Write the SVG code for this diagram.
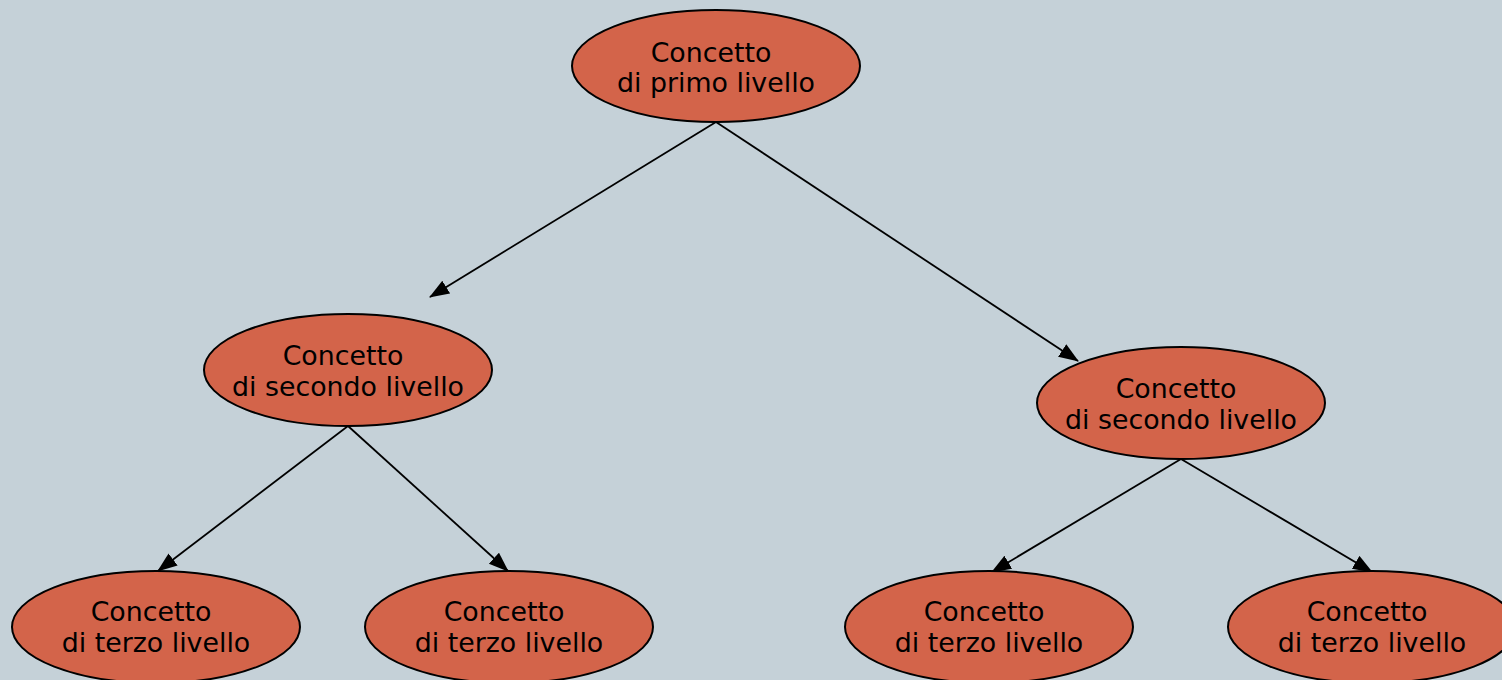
<svg xmlns="http://www.w3.org/2000/svg" width="1502" height="680" viewBox="0 0 1502 680">
<defs>
<style>
.node ellipse{fill:#D3644A;stroke:#000;stroke-width:2}
.node text{font-family:"DejaVu Sans",Verdana,sans-serif;font-size:26.8px;fill:#000;text-anchor:middle}
.edges line{stroke:#000;stroke-width:1.8;marker-end:url(#arr)}
</style>
<marker id="arr" markerUnits="userSpaceOnUse" markerWidth="20" markerHeight="16" refX="19" refY="7.5" orient="auto">
<path d="M0,0 L20,7.5 L0,15 z" fill="#000"/>
</marker>
</defs>
<rect width="1502" height="680" fill="#C5D1D8"/>
<g class="edges" id="connectors">
<line x1="716" y1="122" x2="430" y2="297"/>
<line x1="716" y1="122" x2="1078" y2="361"/>
<line x1="348" y1="426" x2="158" y2="571"/>
<line x1="348" y1="426" x2="508" y2="571"/>
<line x1="1181" y1="459" x2="992" y2="572"/>
<line x1="1181" y1="459" x2="1372" y2="572"/>
</g>
<g class="node" id="n1"><ellipse cx="716" cy="66" rx="144" ry="56"/><text x="711" y="62">Concetto</text><text x="716" y="92">di primo livello</text></g>
<g class="node" id="n2"><ellipse cx="348" cy="370" rx="144" ry="56"/><text x="343" y="365">Concetto</text><text x="348" y="396">di secondo livello</text></g>
<g class="node" id="n3"><ellipse cx="1181" cy="403" rx="144" ry="56"/><text x="1176" y="398">Concetto</text><text x="1181" y="429">di secondo livello</text></g>
<g class="node" id="n4"><ellipse cx="156" cy="627" rx="144" ry="56"/><text x="151" y="621">Concetto</text><text x="156" y="652">di terzo livello</text></g>
<g class="node" id="n5"><ellipse cx="509" cy="627" rx="144" ry="56"/><text x="504" y="621">Concetto</text><text x="509" y="652">di terzo livello</text></g>
<g class="node" id="n6"><ellipse cx="989" cy="627" rx="144" ry="56"/><text x="984" y="621">Concetto</text><text x="989" y="652">di terzo livello</text></g>
<g class="node" id="n7"><ellipse cx="1372" cy="627" rx="144" ry="56"/><text x="1367" y="621">Concetto</text><text x="1372" y="652">di terzo livello</text></g>
</svg>
